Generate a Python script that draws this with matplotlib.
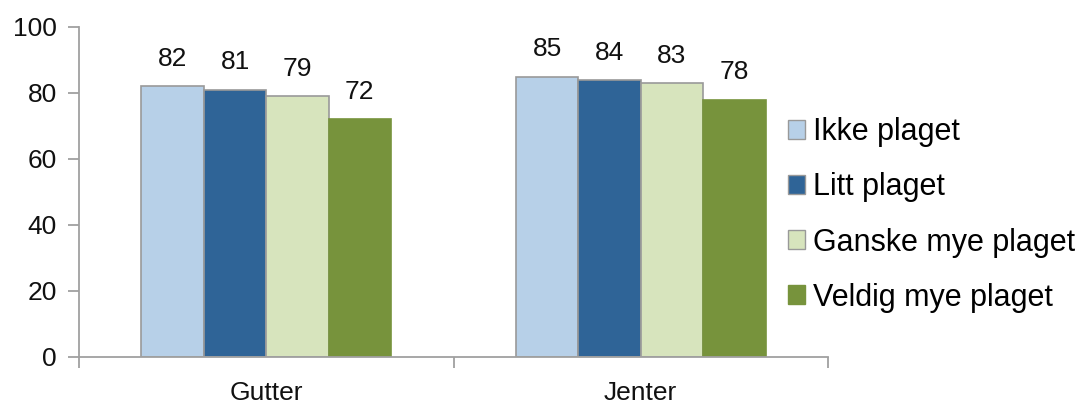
import matplotlib
matplotlib.use("Agg")
import matplotlib.pyplot as plt
from matplotlib.patches import Rectangle
import numpy as np

plt.rcParams['font.family'] = ['Liberation Sans', 'DejaVu Sans']

categories = ["Gutter", "Jenter"]
series_names = ["Ikke plaget", "Litt plaget", "Ganske mye plaget", "Veldig mye plaget"]
values = {
    "Ikke plaget": [82, 85],
    "Litt plaget": [81, 84],
    "Ganske mye plaget": [79, 83],
    "Veldig mye plaget": [72, 78],
}
colors = ["#B7D0E8", "#2F6497", "#D7E4BD", "#77933C"]
edges = ["#999999", "#999999", "#999999", "#77933C"]
y_ticks = [0, 20, 40, 60, 80, 100]

axis_grey = "#A0A0A0"

fig = plt.figure(figsize=(10.81, 4.05), dpi=100)
ax = fig.add_axes([79 / 1081, 48 / 405, 749 / 1081, 330 / 405])

x = np.arange(len(categories))
width = 1 / 6
handles = []
for i, name in enumerate(series_names):
    offs = (i - 1.5) * width
    ax.bar(x + offs, values[name], width, color=colors[i],
           edgecolor=edges[i], linewidth=1.2, zorder=2)
    for xi, v in zip(x + offs, values[name]):
        ax.annotate(str(v), (xi, v), xytext=(0, 11), textcoords="offset points",
                    ha="center", va="bottom", fontsize=19, color="#111111")
    handles.append(Rectangle((0, 0), 1, 1, facecolor=colors[i],
                             edgecolor=edges[i], linewidth=1.0))

ax.set_xlim(-0.5, 1.5)
ax.set_ylim(0, 100)
ax.set_yticks(y_ticks)
ax.set_yticklabels([str(t) for t in y_ticks], fontsize=19, color="#111111")
ax.set_xticks([-0.5, 0.5, 1.5])
ax.set_xticklabels([])
ax.set_xticks(x, minor=True)
ax.set_xticklabels(categories, minor=True, fontsize=19, color="#111111")
ax.tick_params(axis="x", which="minor", length=0, pad=17)
ax.tick_params(axis="x", which="major", length=8, width=1.3, color=axis_grey, direction="out")
ax.tick_params(axis="y", length=8, width=1.3, color=axis_grey, direction="out", pad=8)

for side in ["top", "right"]:
    ax.spines[side].set_visible(False)
for side in ["left", "bottom"]:
    ax.spines[side].set_color(axis_grey)
    ax.spines[side].set_linewidth(1.3)

fig.legend(handles, series_names, loc="center left",
           bbox_to_anchor=(773 / 1081, 1 - 215 / 405), frameon=False,
           fontsize=22, handlelength=0.56, handleheight=0.56,
           handletextpad=0.26, labelspacing=0.82, borderpad=0)

fig.savefig("out.png", dpi=100)
